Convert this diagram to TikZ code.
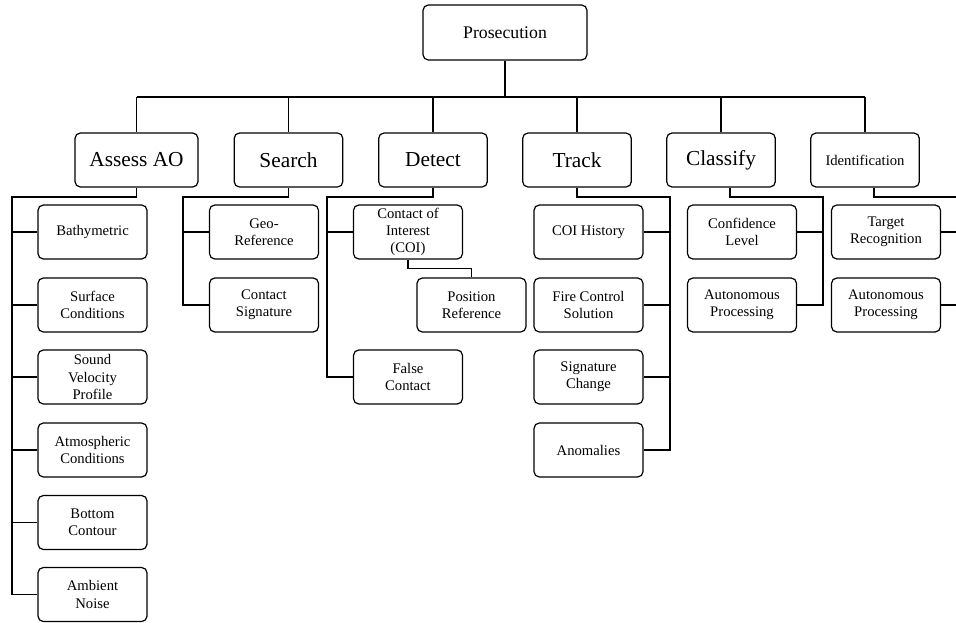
\documentclass[tikz,border=0pt]{standalone}
\usepackage{fontspec}
\setmainfont{Liberation Serif}
\usepackage{xcolor}
\usepackage{tikz}

\begin{document}
\begin{tikzpicture}[x=0.75pt, y=-0.75pt,
            box/.style={draw, line width=0.9pt, rounded corners=4pt, align=center, inner sep=1pt},
            rootbox/.style={box, minimum width=123pt, minimum height=41.25pt, font=\fontsize{13.3}{15}\selectfont},
            task/.style={box, minimum width=81.5pt, minimum height=40.5pt, font=\fontsize{16}{19}\selectfont},
            leaf/.style={box, minimum width=81.75pt, minimum height=40.5pt, font=\fontsize{11}{12.8}\selectfont},
            link/.style={line width=0.8pt},
            rail/.style={line width=1.2pt}]
            \useasboundingbox (0,0) rectangle (956,622);
            \clip (0,0) rectangle (956,622);

            \node[rootbox] (pro) at (505,32.5) {Prosecution};

            \node[task, minimum width=92.25pt] (ao) at (136.5,160) {Assess AO};
            \node[task] (srch) at (288.5,160) {Search};
            \node[task] (det) at (433,160) {Detect};
            \node[task] (trk) at (577,160) {Track};
            \node[task] (cls) at (721,160) {Classify};
            \node[task, font=\fontsize{11}{13}\selectfont] (idn) at (865,160) {Identification};

            \node[leaf] (ao1) at (92.5,232) {Bathymetric};
            \node[leaf] (ao2) at (92.5,305) {Surface\\Conditions};
            \node[leaf] (ao3) at (92.5,377) {Sound\\Velocity\\Profile};
            \node[leaf] (ao4) at (92.5,450) {Atmospheric\\Conditions};
            \node[leaf] (ao5) at (92.5,522.5) {Bottom\\Contour};
            \node[leaf] (ao6) at (92.5,594.5) {Ambient\\Noise};

            \node[leaf] (sr1) at (264,232) {Geo-\\Reference};
            \node[leaf] (sr2) at (264,305) {Contact\\Signature};

            \node[leaf] (de1) at (408,232) {Contact of\\Interest\\(COI)};
            \node[leaf] (de2) at (471.5,305) {Position\\Reference};
            \node[leaf] (de3) at (408,377) {False\\Contact};

            \node[leaf] (tr1) at (588.5,232) {COI History};
            \node[leaf] (tr2) at (588.5,305) {Fire Control\\Solution};
            \node[leaf] (tr3) at (588.5,377) {Signature\\Change};
            \node[leaf] (tr4) at (588.5,450) {Anomalies};

            \node[leaf] (cl1) at (742,232) {Confidence\\Level};
            \node[leaf] (cl2) at (742,305) {Autonomous\\Processing};

            \node[leaf] (id1) at (886,232) {Target\\Recognition};
            \node[leaf] (id2) at (886,305) {Autonomous\\Processing};

            \coordinate (bus) at (505,97);
            \draw[rail] (bus -| ao) -- (bus -| idn);
            \draw[rail] (pro) -- (bus);
            \foreach \n in {ao,srch,det,trk,cls,idn}
                \draw[link] (bus -| \n) -- (\n);

            \coordinate (aoRail) at (12,197);
            \draw[rail] (ao) |- (aoRail) |- (ao6);
            \foreach \k in {1,...,5}
                \draw[link] (aoRail |- ao\k) -- (ao\k);

            \coordinate (srRail) at (183,197);
            \draw[rail] (srch) |- (srRail) |- (sr2);
            \draw[link] (srRail |- sr1) -- (sr1);

            \coordinate (deRail) at (327,197);
            \draw[rail] (det) |- (deRail) |- (de3);
            \draw[link] (deRail |- de1) -- (de1);
            \draw[rail] (de1.south) -- ++(0,9) -| (de2);

            \coordinate (trRail) at (670,197);
            \draw[rail] (trk) |- (trRail) |- (tr4);
            \foreach \k in {1,...,3}
                \draw[link] (trRail |- tr\k) -- (tr\k);

            \coordinate (clRail) at (823,197);
            \draw[rail] ([xshift=6.75pt]cls.south) |- (clRail) |- (cl2);
            \draw[link] (clRail |- cl1) -- (cl1);

            \coordinate (idRail) at (962,197);
            \draw[rail] ([xshift=6.75pt]idn.south) |- (idRail) |- (id2);
            \draw[link] (idRail |- id1) -- (id1);
        \end{tikzpicture}
\end{document}
